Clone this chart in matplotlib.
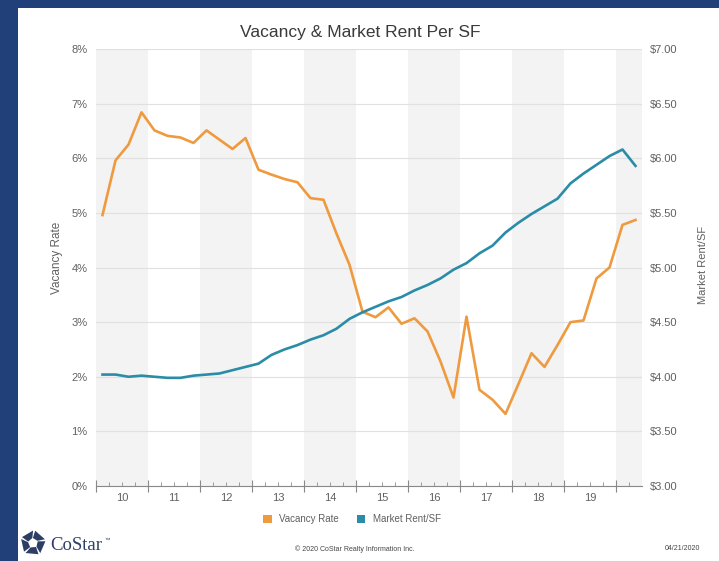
import matplotlib
matplotlib.use("Agg")

import numpy as np
import matplotlib.pyplot as plt
from matplotlib.patches import Patch, Polygon, Rectangle

plt.rcParams["font.family"] = ["Liberation Sans", "DejaVu Sans"]

# quarterly data, 2010 Q1 .. 2020 Q2
years = list(range(2010, 2021))
year_labels = ["10", "11", "12", "13", "14", "15", "16", "17", "18", "19"]

vacancy_rate = [
    4.96, 5.96, 6.25, 6.84,
    6.51, 6.41, 6.38, 6.28,
    6.51, 6.34, 6.17, 6.37,
    5.79, 5.70, 5.62, 5.56,
    5.27, 5.24, 4.62, 4.05,
    3.19, 3.09, 3.27, 2.97,
    3.07, 2.83, 2.28, 1.62,
    3.10, 1.76, 1.58, 1.32,
    1.87, 2.43, 2.18, 2.58,
    3.00, 3.03, 3.80, 4.00,
    4.78, 4.87,
]

market_rent = [
    4.02, 4.02, 4.00, 4.01,
    4.00, 3.99, 3.99, 4.01,
    4.02, 4.03, 4.06, 4.09,
    4.12, 4.20, 4.25, 4.29,
    4.34, 4.38, 4.44, 4.53,
    4.59, 4.64, 4.69, 4.73,
    4.79, 4.84, 4.90, 4.98,
    5.04, 5.13, 5.20, 5.32,
    5.41, 5.49, 5.56, 5.63,
    5.77, 5.86, 5.94, 6.02,
    6.08, 5.93,
]

quarter_pos = [2010 + i / 4 + 0.125 for i in range(len(vacancy_rate))]

NAVY = "#21407a"
ORANGE = "#ef9a3e"
TEAL = "#2a8ca6"
GRID = "#e0e0e0"
SHADE = "#f3f3f3"
TXT = "#606060"

fig = plt.figure(figsize=(7.19, 5.61), dpi=100)
fig.patch.set_facecolor(NAVY)
fig.patches.append(Rectangle((18 / 719, 0), 1, 1 - 8 / 561, transform=fig.transFigure,
                             facecolor="white", edgecolor="none", zorder=-10))

ax = fig.add_axes([96 / 719, 75 / 561, 546 / 719, 437 / 561])
ax.set_facecolor("none")

# alternating shaded years
for y in years[::2]:
    ax.axvspan(y, y + 1, color=SHADE, zorder=0, lw=0)

ax.set_xlim(2010, 2020.5)
ax.set_ylim(0, 8)
ax.set_yticks(range(0, 9))
ax.set_yticklabels([f"{v}%" for v in range(0, 9)])
ax.yaxis.grid(True, color=GRID, lw=0.8, zorder=1)
ax.set_axisbelow(True)

ax.set_xticks(years)
ax.set_xticklabels([])
minor = []
minor_labels = []
for y, lab in zip(years[:-1], year_labels):
    minor += [y + 0.25, y + 0.5, y + 0.75]
    minor_labels += ["", lab, ""]
minor += [2020.25]
minor_labels += [""]
ax.set_xticks(minor, minor=True)
ax.set_xticklabels(minor_labels, minor=True)

ax.tick_params(axis="x", which="major", direction="inout", length=8, color="#888888", width=0.8)
ax.tick_params(axis="x", which="minor", direction="in", length=3, color="#999999", width=0.7,
               labelsize=8, labelcolor=TXT, pad=5)
ax.tick_params(axis="y", length=0, labelsize=8, labelcolor=TXT, pad=6)

for s in ["top", "left", "right"]:
    ax.spines[s].set_visible(False)
ax.spines["bottom"].set_color("#888888")
ax.spines["bottom"].set_linewidth(0.8)

ax.plot(quarter_pos, vacancy_rate, color=ORANGE, lw=1.9, zorder=4)

ax2 = ax.twinx()
ax2.set_ylim(3, 7)
ax2.set_yticks(np.arange(3, 7.01, 0.5))
ax2.set_yticklabels([f"${v:.2f}" for v in np.arange(3, 7.01, 0.5)])
ax2.tick_params(axis="y", length=0, labelsize=8, labelcolor=TXT, pad=6)
for s in ax2.spines.values():
    s.set_visible(False)
ax2.plot(quarter_pos, market_rent, color=TEAL, lw=1.9, zorder=4)

fig.text(360 / 719, 1 - 33 / 561, "Vacancy & Market Rent Per SF", ha="center", va="center",
         fontsize=12.5, color="#3a3a3a")
fig.text(57 / 719, 1 - 258 / 561, "Vacancy Rate", rotation=90, ha="center", va="center",
         fontsize=8.5, color=TXT)
fig.text(703 / 719, 1 - 265 / 561, "Market Rent/SF", rotation=90, ha="center", va="center",
         fontsize=8, color=TXT)

handles = [Patch(facecolor=ORANGE, edgecolor="none", label="Vacancy Rate"),
           Patch(facecolor=TEAL, edgecolor="none", label="Market Rent/SF")]
fig.legend(handles=handles, loc="center", bbox_to_anchor=(352 / 719, 1 - 519 / 561), ncol=2,
           frameon=False, fontsize=7, handlelength=0.9, handleheight=0.9, handletextpad=0.8,
           columnspacing=1.8, labelcolor=TXT)

# footer
fig.text(355 / 719, 1 - 549 / 561, "\u00a9 2020 CoStar Realty Information Inc.", ha="center",
         va="center", fontsize=5, color="#444444")
fig.text(700 / 719, 1 - 549 / 561, "04/21/2020", ha="right", va="center", fontsize=5,
         color="#444444")

# CoStar logo: pinwheel of five blocks
cx, cy = 33, 543
for k in range(5):
    a0 = np.deg2rad(90 + k * 72 + 8)
    a1 = np.deg2rad(90 + k * 72 + 62)
    r_in, r_out = 5, 12.5
    pts = [(cx + r_in * np.cos(a0), cy - r_in * np.sin(a0)),
           (cx + r_out * np.cos(a0 - 0.15), cy - r_out * np.sin(a0 - 0.15)),
           (cx + r_out * np.cos(a1), cy - r_out * np.sin(a1)),
           (cx + r_in * np.cos(a1 + 0.2), cy - r_in * np.sin(a1 + 0.2))]
    pts = [(x / 719, 1 - y / 561) for x, y in pts]
    fig.patches.append(Polygon(pts, closed=True, transform=fig.transFigure,
                               facecolor="#2c3e63", edgecolor="none"))
fig.text(50 / 719, 1 - 545 / 561, "CoStar", ha="left", va="center", fontsize=13.5,
         family=["Liberation Serif", "DejaVu Serif"], color="#2c3e63")
fig.text(104 / 719, 1 - 540 / 561, "\u2122", ha="left", va="center", fontsize=4, color="#2c3e63")

fig.savefig("out.png", dpi=100)
